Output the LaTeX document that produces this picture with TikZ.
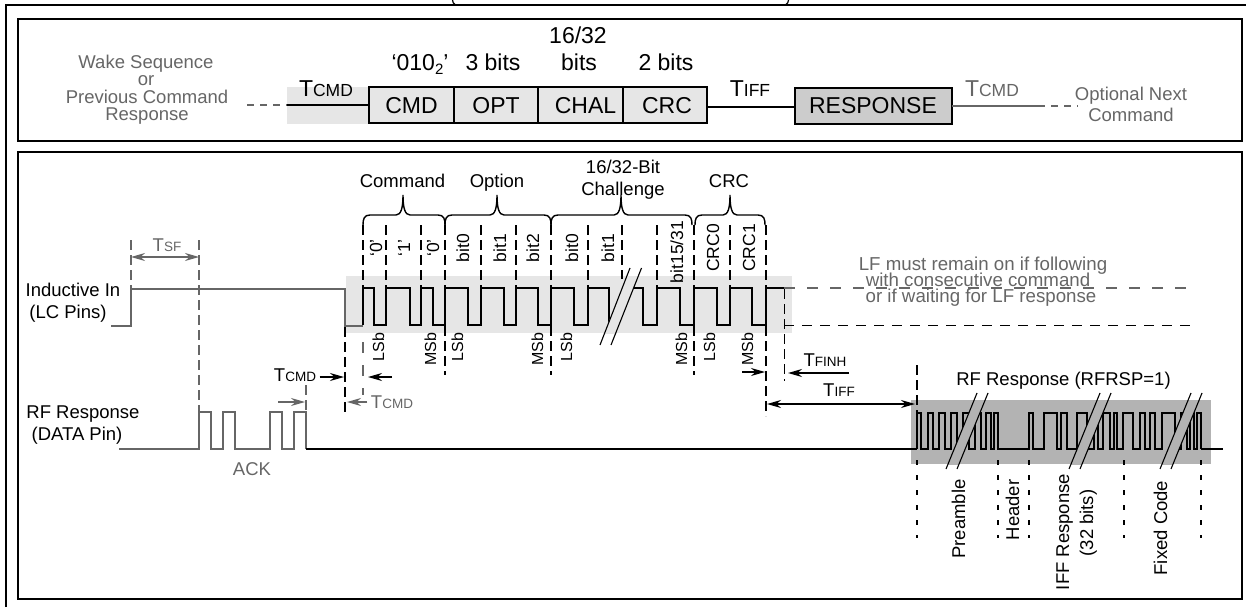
\documentclass[tikz,border=0pt]{standalone}
\usepackage{fontspec}
\setmainfont{Liberation Sans}
\usetikzlibrary{arrows.meta, positioning}
\definecolor{lfband}{HTML}{E6E6E6}
\definecolor{rfband}{HTML}{B3B3B3}
\definecolor{respfill}{HTML}{CCCCCC}
\definecolor{dimgray}{HTML}{666666}
\newcommand{\tbig}[1]{T{\fontsize{17.5}{17.5}\selectfont #1}}
\newcommand{\tsmall}[1]{T{\fontsize{13.5}{13.5}\selectfont #1}}
\newcommand{\bitbrace}[3]{\draw[braceline] (#1,225) .. controls (#1,219) and (#1+1,215) .. (#1+7,215)
  -- (#2-7,215) .. controls (#2-2,215) and (#2,208) .. (#2,195) .. controls (#2,208) and (#2+2,215) .. (#2+7,215)
  -- (#3-7,215) .. controls (#3-1,215) and (#3,219) .. (#3,225);}
\begin{document}
\begin{tikzpicture}[
      x=1pt, y=-1pt,
      frameline/.style={line width=2pt},
      packet/.style={draw, line width=2pt, fill=lfband, minimum width=84.5pt, minimum height=36pt, inner sep=0pt, outer sep=0pt, font=\fontsize{23}{23}\selectfont},
      bigtext/.style={anchor=mid, yshift=-4.5pt, font=\fontsize{23}{23}\selectfont},
      lbl/.style={anchor=mid, yshift=-3.5pt, font=\fontsize{18.5}{18.5}\selectfont},
      glbl/.style={lbl, text=dimgray},
      notelbl/.style={anchor=mid, yshift=-3pt, text=dimgray, inner sep=0pt, font=\fontsize{18.7}{18.7}\selectfont},
      tlbl/.style={anchor=mid, yshift=-3.5pt, font=\fontsize{18.5}{18.5}\selectfont},
      vbit/.style={anchor=mid, rotate=90, yshift=-3.5pt, font=\fontsize{17.5}{17.5}\selectfont},
      vsb/.style={anchor=mid, rotate=90, yshift=-3.5pt, font=\fontsize{16}{16}\selectfont},
      vrf/.style={anchor=mid, rotate=90, yshift=-3.5pt, font=\fontsize{18.5}{18.5}\selectfont},
      wire/.style={line width=1.9pt},
      gwire/.style={line width=1.8pt, dimgray},
      sigline/.style={line width=1.8pt, line join=miter},
      thinsig/.style={line width=1.3pt, line join=miter},
      tick/.style={line width=1.8pt, dash pattern=on 10pt off 5pt},
      gtick/.style={line width=1.6pt, dimgray, dash pattern=on 10pt off 5pt},
      shorttick/.style={line width=1.8pt, dash pattern=on 5pt off 10pt},
      braceline/.style={line width=1.4pt},
      timing/.style={line width=1.5pt, -{Stealth[length=14pt,width=8pt]}},
      gtiming/.style={timing, dimgray},
      span/.style={line width=1.5pt, {Stealth[length=14pt,width=8pt]}-{Stealth[length=14pt,width=8pt]}}
    ]
    \useasboundingbox (0,0) rectangle (1246,607);
    % frames
    \draw[frameline] (5.5,607) -- (5.5,5.5) -- (1246,5.5);
    \draw[frameline] (18,19.5) rectangle (1242,141);
    \draw[frameline] (18,152) rectangle (1242,599);
    % cut off title
    \draw[line width=1.2pt] (452.5,0) .. controls (452.5,2) and (453.5,3.5) .. (455,4.5);
    \draw[line width=1.2pt] (788.5,0) .. controls (788.5,2) and (787.5,3.5) .. (786,4.5);

    % packet row
    \fill[lfband] (287,87) rectangle (369,124);
    \node[packet] (cmdbox) at (411.5,105.3) {CMD};
    \node[packet, right=0pt of cmdbox] (optbox) {OPT};
    \node[packet, right=0pt of optbox] (chalbox) {\hspace*{10pt}CHAL};
    \node[packet, right=0pt of chalbox] (crcbox) {\hspace*{4pt}CRC};
    \node[packet, fill=respfill, minimum width=157pt, minimum height=36pt] (respbox) at (873,106) {RESPONSE};
    \coordinate (leadin) at (287,105.3);
    \coordinate (leaddash) at (247,105.3);
    \coordinate (leadout) at (1038,105.7);
    \coordinate (outdash) at (1078,105.7);
    \draw[wire] (leadin) -- (cmdbox.west);
    \draw[gwire, line width=2.2pt, dash pattern=on 7pt off 6pt] (leaddash) -- (leadin);
    \draw[wire] ([yshift=-1.5pt]crcbox.east) -- ([yshift=-1.5pt]crcbox.east -| respbox.west);
    \draw[gwire] (respbox.east |- leadout) -- (leadout);
    \draw[gwire, line width=2.2pt, dash pattern=on 7pt off 6pt] (leadout) -- (outdash);
    \node[glbl] (wake) at (146,62) {Wake Sequence};
    \node[glbl] (wakeor) at (146,79) {or};
    \node[glbl] (prevcmd) at (147,97) {Previous Command};
    \node[glbl] (prevresp) at (147,114) {Response};
    \node[glbl] (optnext) at (1131,94) {Optional Next};
    \node[glbl] (optcmd) at (1131,115) {Command};
    \node[bigtext] (cmdbits) at (420,63) {‘010\raisebox{-4pt}{\fontsize{15}{15}\selectfont 2}’};
    \node[bigtext] (optbits) at (493,63) {3 bits};
    \node[bigtext] (chalwide) at (578,36) {16/32};
    \node[bigtext] (chalbits) at (579,63) {bits};
    \node[bigtext] (crcbits) at (666,63) {2 bits};
    \node[bigtext] (tcmdtop) at (326,89) {\tbig{CMD}};
    \node[bigtext] (tifftop) at (750,89) {\tbig{IFF}};
    \node[bigtext, text=dimgray] (tcmdnext) at (992,89) {\tbig{CMD}};

    % bands
    \fill[lfband] (346,276) rectangle (792,333);
    \fill[rfband] (911,400) rectangle (1211,464);

    % bit ticks
    \foreach \xb in {363,386,421,445,481,516,551,588,657,694,730,766}
      \draw[tick] (\xb,225) -- (\xb,288);
    \draw[tick] (622,225) -- (622,279);
    \foreach \xb in {445,551,694}
      \draw[tick] (\xb,326) -- (\xb,375);
    \draw[tick] (766,326) -- (766,416);
    \draw[tick] (784.5,289) -- (784.5,381);
    \draw[tick] (345,327) -- (345,413);
    \draw[tick] (917,365) -- (917,413);
    \foreach \xb in {917,998,1029,1124,1201}
      \draw[shorttick] (\xb,460) -- (\xb,538);
    \draw[gtick] (131,240) -- (131,289);
    \draw[gtick] (199,240) -- (199,412);
    \draw[gtick] (306,385) -- (306,412);
    \draw[gtick, dash pattern=on 11pt off 12pt] (363,342) -- (363,395);
    \draw[gtick, dash pattern=on 11pt off 12pt] (784,288) -- (1192,288);
    \draw[line width=1.8pt, dash pattern=on 10pt off 8pt] (784,325.5) -- (1192,325.5);

    % waveforms
    \draw[gwire, line join=miter] (111,326) -- (131,326) -- (131,289) -- (345,289) -- (345,326) -- (363,326);
    \draw[sigline] (363,325) foreach \up/\dn in {363/374,386/410,421/433,445/468,481/504,516/538,551/574,588/609}
      { -- (\up,325) -- (\up,288) -- (\dn,288) -- (\dn,325) };
    \draw[sigline] (634,288) -- (643,288) -- (643,325) foreach \up/\dn in {657/680,694/717,730/752}
      { -- (\up,325) -- (\up,288) -- (\dn,288) -- (\dn,325) } -- (766,325) -- (766,288) -- (784,288);
    \draw[gwire, line join=miter] (119,449) foreach \up/\dn in {199/211,223/235,270/282,294/306}
      { -- (\up,449) -- (\up,412) -- (\dn,412) -- (\dn,449) };
    \draw[line width=2pt] (306,449) -- (917,449);
    \draw[thinsig] (917,449) foreach \up/\dn in {917/921,928/933,939/945,951/957,963/969,975/981,986/991,994/998,1029/1033,1044/1057,1061/1067,1077/1087,1094/1098,1103/1110,1114/1117,1123/1133,1140/1145,1150/1155,1162/1175,1181/1187,1190/1194,1197/1201}
      { -- (\up,449) -- (\up,413) -- (\dn,413) -- (\dn,449) } -- (1201,449);
    \draw[line width=2pt] (1201,449) -- (1223,449);

    % breaks in the waveforms
    \begin{scope}
      \clip (346,276) rectangle (792,333);
      \fill[lfband] (630,268) -- (641.5,268) -- (611,345) -- (599.5,345) -- cycle;
    \end{scope}
    \begin{scope}
      \clip (911,400) rectangle (1211,464);
      \foreach \xa in {977,1100,1191}
        \fill[rfband] (\xa,393) -- (\xa+11,393) -- (\xa-20,469) -- (\xa-31,469) -- cycle;
    \end{scope}
    \foreach \xa in {977,1100,1191} {
      \draw[line width=1.1pt] (\xa,393) -- (\xa-31,469);
      \draw[line width=1.1pt] (\xa+11,393) -- (\xa-20,469);
    }
    \draw[line width=1.1pt] (630,268) -- (600,345);
    \draw[line width=1.1pt] (641.5,268) -- (611,345);

    % braces
    \bitbrace{363}{403}{445}
    \bitbrace{445}{497}{551}
    \bitbrace{551}{621}{692}
    \bitbrace{695}{730}{765}
    \node[lbl] (cmdname) at (402.5,181) {Command};
    \node[lbl] (optname) at (497,181) {Option};
    \node[lbl, align=center, font=\fontsize{18.5}{22}\selectfont] (chalname) at (623,189.5) {16/32-Bit\\Challenge};
    \node[lbl] (crcname) at (729,181) {CRC};

    % bit names
    \foreach \xb/\txt [count=\i] in {376/‘0’,404/‘1’,433/‘0’,463/bit0,500/bit1,533/bit2,572/bit0,608/bit1,713/CRC0,749/CRC1}
      \node[vbit] (bitname\i) at (\xb,248) {\txt};
    \node[vbit] (bitlast) at (677,252) {bit15/31};
    \foreach \xb in {378,457,566,709}
      \node[vsb] (lsb\xb) at (\xb,347) {LSb};
    \foreach \xb in {430,537,681,747}
      \node[vsb] (msb\xb) at (\xb,349) {MSb};

    % signal names
    \node[lbl] (lcname) at (73,290) {Inductive In};
    \node[lbl] (lcpins) at (68,312) {(LC Pins)};
    \node[lbl] (rfname) at (83,412) {RF Response};
    \node[lbl] (rfpin) at (77,434) {(DATA Pin)};
    \node[glbl] (ack) at (252,469) {ACK};

    % timing marks
    \node[tlbl, text=dimgray] (tsf) at (167,245) {\tsmall{SF}};
    \coordinate (tsfa) at (131,257);
    \coordinate (tsfb) at (199,257);
    \draw[span, dimgray] (tsfa) -- (tsfb);
    \node[tlbl] (tcmdin) at (295,375) {\tsmall{CMD}};
    \coordinate (tcmdend) at (344,377);
    \draw[timing] (tcmdin.east |- tcmdend) -- (tcmdend);
    \coordinate (lsbarrow) at (392,377);
    \coordinate (lsbend) at (368,377);
    \draw[timing] (lsbarrow) -- (lsbend);
    \node[tlbl, text=dimgray] (tcmdgray) at (392,402) {\tsmall{CMD}};
    \coordinate (graytip) at (347,402);
    \draw[gtiming] (tcmdgray.west |- graytip) -- (graytip);
    \coordinate (ackarrow) at (278,402);
    \coordinate (acktip) at (305,402);
    \draw[gtiming] (ackarrow) -- (acktip);
    \coordinate (msbarrow) at (742,372);
    \coordinate (msbtip) at (765,372);
    \draw[timing] (msbarrow) -- (msbtip);
    \node[tlbl] (tfinh) at (825,360) {\tsmall{FINH}};
    \coordinate (finharrow) at (849,373);
    \coordinate (finhtip) at (788,373);
    \draw[timing] (finharrow) -- (finhtip);
    \node[tlbl] (tiff) at (839,390) {\tsmall{IFF}};
    \coordinate (iffa) at (767,404);
    \coordinate (iffb) at (915,404);
    \draw[span] (iffa) -- (iffb);

    % LF note and RF fields
    \node[notelbl] (lfnotea) at (983,265) {LF must remain on if following};
    \node[notelbl] (lfnoteb) at (978,281) {with consecutive command};
    \node[notelbl] (lfnotec) at (981,296.5) {or if waiting for LF response};
    \node[lbl] (rfresp) at (1063.5,379) {RF Response (RFRSP=1)};
    \node[vrf] (preamble) at (959,519) {Preamble};
    \node[vrf] (header) at (1013,510) {Header};
    \node[vrf] (iffresp) at (1063,532) {IFF Response};
    \node[vrf] (iffbits) at (1087,523) {(32 bits)};
    \node[vrf] (fixedcode) at (1161,528) {Fixed Code};
  \end{tikzpicture}
\end{document}
